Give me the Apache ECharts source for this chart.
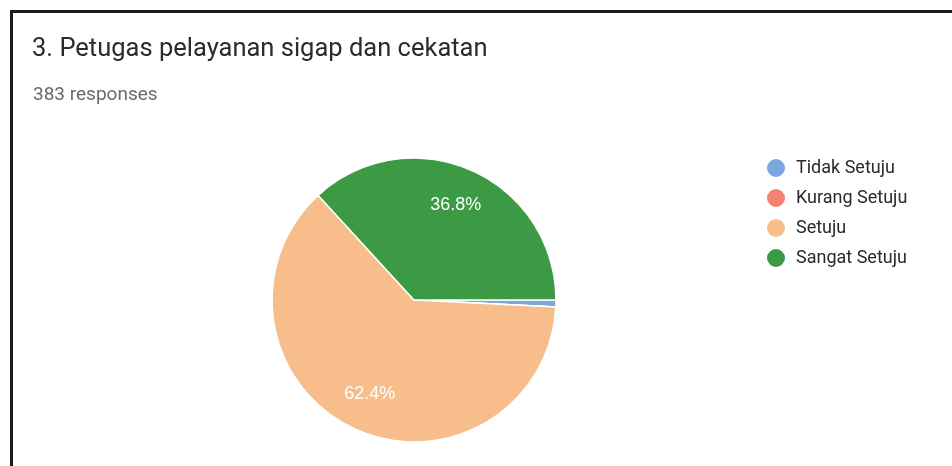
<!DOCTYPE html>
<html>
<head>
<meta charset="utf-8">
<script src="https://cdn.jsdelivr.net/npm/echarts@6/dist/echarts.min.js"></script>
<style>
  html, body { margin: 0; padding: 0; background: #ffffff; }
  #chart { width: 952px; height: 466px; }
</style>
</head>
<body>
<div id="chart"></div>
<script>
// Survey answers for question 3 (383 responses)
const categories = ['Tidak Setuju', 'Kurang Setuju', 'Setuju', 'Sangat Setuju'];
const responseCounts = [3, 0, 239, 141];
const sliceColors = ['#7aa7de', '#f3826f', '#f7be8c', '#3c9a45'];

const titleText = '3. Petugas pelayanan sigap dan cekatan';
const subtitleText = '383 responses';

const total = responseCounts.reduce((a, b) => a + b, 0);
const pieData = categories.map((name, i) => ({ name, value: responseCounts[i] }));

// Percentage text for slices large enough to hold it
function pctLabel(p) {
  const share = p.value / total * 100;
  return share >= 5 ? share.toFixed(1) + '%' : '';
}

const chart = echarts.init(document.getElementById('chart'), null, { renderer: 'canvas' });

chart.setOption({
  animation: false,
  backgroundColor: '#ffffff',
  color: sliceColors,
  title: [
    {
      text: titleText,
      left: 32,
      top: 37,
      padding: 0,
      textStyle: { fontFamily: 'Roboto', fontSize: 25.5, fontWeight: 'normal', color: '#2b2b2b' }
    },
    {
      text: subtitleText,
      left: 33,
      top: 86,
      padding: 0,
      textStyle: { fontFamily: 'Roboto', fontSize: 19, fontWeight: 'normal', color: '#6a6a6a' }
    }
  ],
  legend: {
    orient: 'vertical',
    left: 765,
    top: 157,
    padding: 0,
    icon: 'circle',
    itemWidth: 20,
    itemHeight: 20,
    itemGap: 8,
    data: categories,
    selectedMode: false,
    textStyle: {
      fontFamily: 'Roboto',
      fontSize: 18,
      color: '#2a2a2a',
      padding: [0, 0, 0, 5]
    }
  },
  graphic: [
    {
      type: 'polyline',
      silent: true,
      shape: { points: [[11.5, 466], [11.5, 11.5], [952, 11.5]] },
      style: { stroke: '#1c1c1c', lineWidth: 3, fill: null }
    }
  ],
  series: [
    {
      type: 'pie',
      center: [414, 300],
      radius: [0, 142],
      startAngle: 0,
      clockwise: true,
      data: pieData,
      label: { show: false },
      labelLine: { show: false },
      emphasis: { disabled: true },
      itemStyle: { borderColor: '#ffffff', borderWidth: 1.5 }
    },
    {
      // transparent ring used only to place the percentage labels
      type: 'pie',
      center: [414, 300],
      radius: [60, 142],
      startAngle: 0,
      clockwise: true,
      silent: true,
      data: pieData,
      itemStyle: { color: 'rgba(0,0,0,0)', borderWidth: 0 },
      label: {
        show: true,
        position: 'inside',
        formatter: pctLabel,
        fontFamily: 'Arial',
        fontSize: 18,
        color: '#ffffff'
      },
      labelLine: { show: false },
      emphasis: { disabled: true }
    }
  ]
});
</script>
</body>
</html>
